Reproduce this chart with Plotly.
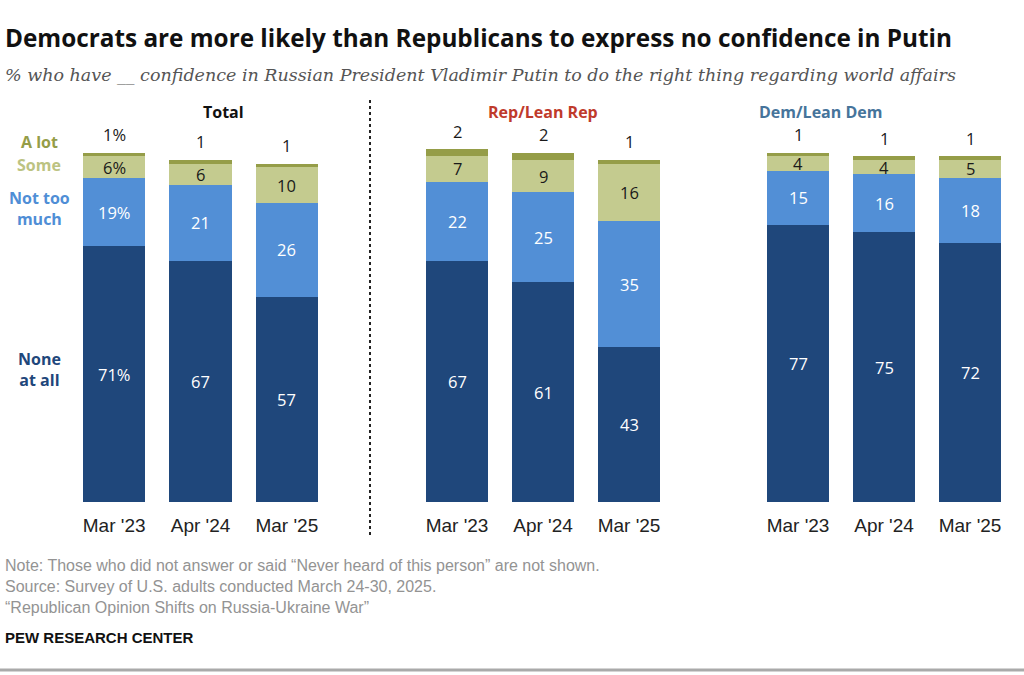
import plotly.graph_objects as go

W, H = 1024, 675

periods = ["Mar '23", "Apr '24", "Mar '25"]
panels = ["Total", "Rep/Lean Rep", "Dem/Lean Dem"]

none_at_all = {"Total": [71, 67, 57], "Rep/Lean Rep": [67, 61, 43], "Dem/Lean Dem": [77, 75, 72]}
not_too_much = {"Total": [19, 21, 26], "Rep/Lean Rep": [22, 25, 35], "Dem/Lean Dem": [15, 16, 18]}
some = {"Total": [6, 6, 10], "Rep/Lean Rep": [7, 9, 16], "Dem/Lean Dem": [4, 4, 5]}
a_lot = {"Total": [1, 1, 1], "Rep/Lean Rep": [2, 2, 1], "Dem/Lean Dem": [1, 1, 1]}

C_NONE = "#1f477b"
C_NTM = "#528fd6"
C_SOME = "#c4cb8f"
C_ALOT = "#959d48"

panel_colors = {"Total": "#111111", "Rep/Lean Rep": "#bf3a2b", "Dem/Lean Dem": "#46749b"}
# pixel extents of each panel's x-axis
domains = {"Total": (71, 330), "Rep/Lean Rep": (414, 672), "Dem/Lean Dem": (755, 1013)}
axis_ids = {"Total": "", "Rep/Lean Rep": "2", "Dem/Lean Dem": "3"}

VAL_FONT = "Open Sans"
SANS = "Liberation Sans"
BOLD_FONT = "Open Sans"


def px(y):
    return 1 - y / H


fig = go.Figure()
annotations = []

series = [
    ("None at all", none_at_all, C_NONE, "white"),
    ("Not too much", not_too_much, C_NTM, "white"),
    ("Some", some, C_SOME, "#1a1a1a"),
    ("A lot", a_lot, C_ALOT, "#1a1a1a"),
]

for p in panels:
    aid = axis_ids[p]
    xref = "x" + aid
    base = [0, 0, 0]
    for name, data, color, tcolor in series:
        vals = data[p]
        fig.add_trace(go.Bar(
            x=periods, y=vals, name=name, marker_color=color,
            marker_line_width=0, width=0.72,
            xaxis=xref, yaxis="y", showlegend=False, hoverinfo="skip",
        ))
        for i, v in enumerate(vals):
            label = str(v)
            if p == "Total" and i == 0:
                label += "%"
            if name == "A lot":
                yv = base[i] + v
                ys = 18
            else:
                yv = base[i] + v / 2
                ys = 0
            annotations.append(dict(
                x=periods[i], y=yv, xref=xref, yref="y", text=label,
                showarrow=False, yshift=ys, yanchor="middle",
                font=dict(family=VAL_FONT, size=16.5, color=tcolor),
            ))
        base = [b + v for b, v in zip(base, vals)]

    x0, x1 = domains[p]
    annotations.append(dict(
        x=(x0 + x1) / 2 / W, y=px(112), xref="paper", yref="paper",
        text="<b>%s</b>" % p, showarrow=False, yanchor="middle",
        font=dict(family=BOLD_FONT, size=16, color=panel_colors[p]),
    ))

# row labels on the left
row_labels = [
    ("A lot", 142, C_ALOT),
    ("Some", 165, "#bcc382"),
    ("Not too<br>much", 208, "#4f8ed6"),
    ("None<br>at all", 369, C_NONE),
]
for txt, y, c in row_labels:
    annotations.append(dict(
        x=39 / W, y=px(y), xref="paper", yref="paper", text="<b>%s</b>" % txt,
        showarrow=False, yanchor="middle", xanchor="center", align="center",
        font=dict(family=BOLD_FONT, size=16, color=c),
    ))

annotations.append(dict(
    x=3 / W, y=px(37), xref="paper", yref="paper", xanchor="left", yanchor="middle",
    text="<b>Democrats are more likely than Republicans to express no confidence in Putin</b>",
    showarrow=False, font=dict(family=BOLD_FONT, size=24.3, color="#111111"),
))
annotations.append(dict(
    x=3 / W, y=px(75), xref="paper", yref="paper", xanchor="left", yanchor="middle",
    text="<i>% who have __ confidence in Russian President Vladimir Putin to do the right thing regarding world affairs</i>",
    showarrow=False, font=dict(family="DejaVu Serif", size=17.5, color="#555555"),
))

notes = [
    ("Note: Those who did not answer or said \u201cNever heard of this person\u201d are not shown.", 565),
    ("Source: Survey of U.S. adults conducted March 24-30, 2025.", 586),
    ("\u201cRepublican Opinion Shifts on Russia-Ukraine War\u201d", 607),
]
for txt, y in notes:
    annotations.append(dict(
        x=3 / W, y=px(y), xref="paper", yref="paper", xanchor="left", yanchor="middle",
        text=txt, showarrow=False, font=dict(family=SANS, size=16, color="#939393"),
    ))
annotations.append(dict(
    x=3 / W, y=px(637), xref="paper", yref="paper", xanchor="left", yanchor="middle",
    text="<b>PEW RESEARCH CENTER</b>", showarrow=False,
    font=dict(family=SANS, size=15, color="#111111"),
))

shapes = [
    dict(type="line", xref="paper", yref="paper", x0=370 / W, x1=370 / W,
         y0=px(100), y1=px(538), line=dict(color="#222222", width=2, dash="dot")),
    dict(type="line", xref="paper", yref="paper", x0=0, x1=1,
         y0=px(670), y1=px(670), line=dict(color="#aaaaaa", width=3)),
]

layout_axes = {}
for p in panels:
    aid = axis_ids[p]
    x0, x1 = domains[p]
    layout_axes["xaxis" + aid] = dict(
        domain=[x0 / W, x1 / W], anchor="y", range=[-0.5, 2.5],
        showgrid=False, zeroline=False, showline=False,
        ticks="outside", ticklen=6, tickcolor="rgba(0,0,0,0)",
        tickfont=dict(family=SANS, size=19, color="#222222"),
        fixedrange=True,
    )

fig.update_layout(
    width=W, height=H, barmode="stack", bargap=0,
    paper_bgcolor="white", plot_bgcolor="white",
    margin=dict(l=0, r=0, t=0, b=0),
    yaxis=dict(domain=[px(502), px(142)], range=[0, 100], visible=False, fixedrange=True),
    annotations=annotations, shapes=shapes,
    **layout_axes,
)

fig.write_html("out.html", config={"displayModeBar": False},
               post_script="document.body.style.margin='0';")
